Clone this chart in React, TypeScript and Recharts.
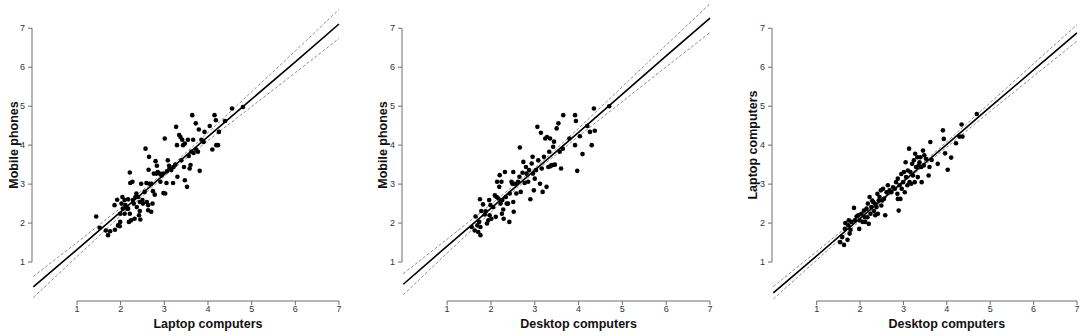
import React from "react";
import { ScatterChart, Scatter, XAxis, YAxis, ReferenceLine } from "recharts";

const bandX = [0, 1, 2, 3, 4, 5, 6, 7];
const axisTicks = [1, 2, 3, 4, 5, 6, 7];

// Panel 1: laptop computers (x) vs mobile phones (y)
const laptopMobile: [number, number][] = [
  [1.44, 2.17], [1.52, 1.88], [1.66, 1.81], [1.71, 1.69], [1.76, 1.79], [1.86, 2.46], [1.87, 1.83],
  [1.92, 2.6], [1.94, 1.94], [1.98, 1.92], [1.99, 2.03], [1.99, 2.24], [2.02, 2.5], [2.04, 2.67],
  [2.05, 2.37], [2.09, 2.59], [2.11, 2.46], [2.09, 2.24], [2.15, 2.37], [2.17, 2.61], [2.17, 2.37],
  [2.19, 2.03], [2.21, 2.24], [2.21, 3.3], [2.22, 3.03], [2.24, 2.07], [2.27, 3.06], [2.28, 2.59],
  [2.3, 2.5], [2.32, 2.11], [2.34, 2.67], [2.36, 2.76], [2.37, 2.41], [2.4, 2.67], [2.42, 2.2],
  [2.44, 2.54], [2.44, 2.31], [2.45, 2.09], [2.47, 3.01], [2.5, 2.59], [2.51, 2.5], [2.55, 2.8],
  [2.57, 3.91], [2.59, 3.03], [2.6, 2.54], [2.63, 2.46], [2.63, 2.33], [2.64, 3.37], [2.65, 3.7],
  [2.66, 3.01], [2.7, 3.01], [2.7, 2.29], [2.73, 2.5], [2.74, 2.82], [2.76, 3.27], [2.78, 2.73],
  [2.8, 3.59], [2.82, 3.27], [2.83, 3.47], [2.85, 3.31], [2.89, 3.27], [2.91, 3.06], [2.94, 3.23],
  [2.97, 3.27], [2.98, 2.77], [3.01, 4.17], [3.02, 2.76], [3.05, 3.03], [3.06, 3.33], [3.08, 3.61],
  [3.11, 3.47], [3.12, 3.4], [3.16, 3.36], [3.2, 3.03], [3.21, 3.44], [3.25, 3.5], [3.27, 4.47],
  [3.29, 4.0], [3.3, 3.19], [3.34, 4.26], [3.37, 4.21], [3.39, 3.61], [3.41, 4.14], [3.43, 4.0],
  [3.45, 3.44], [3.47, 3.1], [3.47, 4.04], [3.52, 2.93], [3.54, 4.14], [3.56, 3.72], [3.58, 3.4],
  [3.6, 3.49], [3.62, 3.83], [3.64, 4.77], [3.66, 4.14], [3.67, 3.8], [3.72, 4.56], [3.73, 3.89],
  [3.77, 3.83], [3.79, 4.4], [3.81, 3.34], [3.85, 4.14], [3.9, 4.08], [3.92, 4.34], [4.04, 4.49],
  [4.1, 3.89], [4.15, 4.77], [4.18, 4.64], [4.19, 4.0], [4.23, 4.0], [4.25, 4.34], [4.39, 4.62],
  [4.55, 4.94], [4.8, 4.98],
];
const laptopMobileFit = [0.36, 1.32, 2.29, 3.25, 4.22, 5.18, 6.14, 7.11];
const laptopMobileUpper = [0.63, 1.5, 2.39, 3.3, 4.32, 5.37, 6.42, 7.48];
const laptopMobileLower = [0.09, 1.14, 2.19, 3.2, 4.12, 4.99, 5.86, 6.74];

// Panel 2: desktop computers (x) vs mobile phones (y)
const desktopMobile: [number, number][] = [
  [1.56, 1.9], [1.63, 1.81], [1.65, 2.17], [1.69, 1.94], [1.71, 1.77], [1.73, 2.03], [1.75, 2.61],
  [1.76, 1.9], [1.76, 1.69], [1.78, 2.31], [1.82, 2.48], [1.86, 2.22], [1.88, 2.3], [1.91, 1.99],
  [1.94, 2.07], [1.96, 2.59], [1.97, 2.2], [1.99, 2.46], [2.01, 2.11], [2.05, 2.41], [2.09, 2.71],
  [2.11, 2.16], [2.13, 2.67], [2.14, 3.06], [2.17, 2.63], [2.19, 2.93], [2.2, 3.23], [2.22, 2.5],
  [2.24, 3.06], [2.25, 2.24], [2.26, 2.59], [2.28, 2.35], [2.29, 2.11], [2.32, 3.31], [2.34, 2.67],
  [2.36, 2.5], [2.39, 2.5], [2.42, 2.03], [2.43, 2.76], [2.47, 3.06], [2.49, 3.01], [2.51, 3.31],
  [2.51, 2.54], [2.52, 2.29], [2.55, 3.01], [2.58, 2.76], [2.62, 3.06], [2.65, 3.19], [2.66, 3.94],
  [2.68, 2.8], [2.72, 3.29], [2.74, 3.57], [2.77, 3.03], [2.8, 3.44], [2.81, 3.27], [2.85, 3.06],
  [2.87, 3.36], [2.9, 2.61], [2.93, 3.53], [2.95, 3.7], [2.96, 3.27], [2.98, 2.84], [3.0, 3.14],
  [3.03, 3.36], [3.06, 4.47], [3.08, 3.61], [3.12, 3.01], [3.14, 4.32], [3.16, 3.4], [3.18, 2.8],
  [3.21, 3.7], [3.24, 4.17], [3.27, 2.93], [3.28, 4.21], [3.31, 3.44], [3.33, 3.83], [3.35, 4.17],
  [3.36, 3.46], [3.38, 3.49], [3.41, 3.49], [3.42, 3.96], [3.44, 4.09], [3.46, 3.5], [3.5, 4.43],
  [3.54, 4.56], [3.57, 3.83], [3.6, 3.4], [3.64, 3.91], [3.65, 4.77], [3.79, 4.17], [3.92, 4.0],
  [3.92, 4.77], [3.94, 4.62], [3.97, 3.34], [4.03, 4.23], [4.09, 3.77], [4.2, 4.49], [4.26, 4.34],
  [4.3, 4.0], [4.35, 4.94], [4.37, 4.37], [4.7, 5.0],
];
const desktopMobileFit = [0.43, 1.41, 2.38, 3.36, 4.33, 5.31, 6.29, 7.26];
const desktopMobileUpper = [0.7, 1.59, 2.48, 3.41, 4.43, 5.5, 6.57, 7.63];
const desktopMobileLower = [0.16, 1.23, 2.28, 3.31, 4.23, 5.12, 6.01, 6.89];

// Panel 3: desktop computers (x) vs laptop computers (y)
const desktopLaptop: [number, number][] = [
  [1.54, 1.51], [1.59, 1.64], [1.63, 1.44], [1.65, 1.85], [1.66, 2.0], [1.71, 1.57], [1.73, 1.94],
  [1.74, 2.07], [1.76, 1.73], [1.78, 1.83], [1.8, 2.03], [1.86, 2.39], [1.88, 2.07], [1.92, 2.17],
  [1.96, 2.2], [1.98, 1.85], [1.99, 2.07], [2.03, 2.24], [2.06, 2.03], [2.09, 2.32], [2.11, 2.15],
  [2.12, 2.03], [2.15, 2.37], [2.17, 2.15], [2.18, 2.5], [2.2, 1.98], [2.22, 2.67], [2.24, 2.24],
  [2.26, 2.41], [2.28, 2.58], [2.3, 2.54], [2.32, 2.31], [2.34, 2.5], [2.35, 2.2], [2.38, 2.41],
  [2.4, 2.75], [2.41, 2.24], [2.43, 2.58], [2.45, 2.67], [2.48, 2.84], [2.49, 2.45], [2.51, 2.58],
  [2.53, 2.88], [2.55, 2.62], [2.58, 2.2], [2.61, 2.79], [2.64, 2.97], [2.68, 2.84], [2.72, 2.79],
  [2.76, 2.92], [2.8, 2.88], [2.83, 3.05], [2.86, 2.75], [2.87, 3.14], [2.87, 2.62], [2.89, 2.32],
  [2.91, 2.97], [2.93, 2.62], [2.95, 3.26], [2.96, 2.88], [2.99, 3.05], [3.01, 3.31], [3.03, 2.79],
  [3.05, 3.56], [3.06, 3.18], [3.09, 2.97], [3.1, 3.35], [3.13, 3.91], [3.14, 3.05], [3.16, 3.31],
  [3.18, 3.01], [3.2, 3.52], [3.22, 3.22], [3.24, 3.61], [3.26, 3.05], [3.27, 3.78], [3.29, 3.44],
  [3.32, 3.69], [3.33, 3.18], [3.35, 3.48], [3.37, 3.56], [3.39, 3.69], [3.41, 3.44], [3.42, 3.05],
  [3.45, 3.86], [3.47, 3.48], [3.48, 3.74], [3.52, 3.65], [3.58, 3.22], [3.6, 3.44], [3.62, 4.08],
  [3.65, 3.62], [3.79, 3.52], [3.91, 4.38], [3.93, 4.16], [3.96, 3.79], [4.02, 3.37], [4.1, 3.68],
  [4.21, 4.05], [4.29, 4.22], [4.34, 4.53], [4.36, 4.22], [4.69, 4.8],
];
const desktopLaptopFit = [0.21, 1.16, 2.12, 3.07, 4.02, 4.98, 5.93, 6.88];
const desktopLaptopUpper = [0.37, 1.27, 2.18, 3.1, 4.09, 5.09, 6.09, 7.09];
const desktopLaptopLower = [0.05, 1.05, 2.06, 3.04, 3.95, 4.87, 5.77, 6.67];

const X_MIN = -0.03;
const FONT = "'Liberation Sans', Arial, Helvetica, sans-serif";
const AXIS_GREY = "#6e6e6e";
const BAND_GREY = "#8c8c8c";

const toXY = (pairs: [number, number][]) => pairs.map(([x, y]) => ({ x, y }));
const curve = (ys: number[]) => bandX.map((x, i) => ({ x, y: ys[i] }));
// left spine only spans the tick range, like R's axis()
const ySpine = [
  { x: X_MIN, y: axisTicks[0] },
  { x: X_MIN, y: axisTicks[axisTicks.length - 1] },
];

const noDot = () => <g />;
const dot = (p: any) => <circle cx={p.cx} cy={p.cy} r={2.3} fill="#000" />;

type PanelProps = {
  left: number;
  width: number;
  points: [number, number][];
  fit: number[];
  upper: number[];
  lower: number[];
  xTitle: string;
  yTitle: string;
  yTitleX: number;
};

function Panel({ left, width, points, fit, upper, lower, xTitle, yTitle, yTitleX }: PanelProps) {
  const plotLeft = left + 32;
  const plotRight = left + width - 6;
  const x1 = plotLeft + ((plotRight - plotLeft) * (1 - X_MIN)) / (7 - X_MIN);
  return (
    <>
      <div style={{ position: "absolute", left, top: 0 }}>
        <ScatterChart width={width} height={336} margin={{ top: 1, right: 6, bottom: 0, left: 0 }}>
          <XAxis
            type="number"
            dataKey="x"
            domain={[X_MIN, 7]}
            ticks={axisTicks}
            axisLine={false}
            tickSize={4}
            tickMargin={1}
            height={35}
            stroke={AXIS_GREY}
            tick={{ fill: "#333", fontSize: 9, fontFamily: FONT }}
          />
          <YAxis
            type="number"
            dataKey="y"
            domain={[0, 7.7]}
            ticks={axisTicks}
            axisLine={false}
            tickSize={4}
            tickMargin={3}
            width={32}
            stroke={AXIS_GREY}
            tick={{ fill: "#333", fontSize: 9, fontFamily: FONT }}
          />
          <ReferenceLine
            segment={[{ x: 1, y: 0 }, { x: 7, y: 0 }]}
            stroke={AXIS_GREY}
            strokeWidth={1}
            ifOverflow="visible"
          />
          <Scatter
            data={ySpine}
            shape={noDot}
            line={{ stroke: AXIS_GREY, strokeWidth: 1 }}
            isAnimationActive={false}
          />
          <Scatter
            data={curve(upper)}
            shape={noDot}
            line={{ stroke: BAND_GREY, strokeWidth: 1, strokeDasharray: "3 2" }}
            isAnimationActive={false}
          />
          <Scatter
            data={curve(lower)}
            shape={noDot}
            line={{ stroke: BAND_GREY, strokeWidth: 1, strokeDasharray: "3 2" }}
            isAnimationActive={false}
          />
          <Scatter data={toXY(points)} shape={dot} isAnimationActive={false} />
          <Scatter
            data={curve(fit)}
            shape={noDot}
            line={{ stroke: "#000", strokeWidth: 1.6 }}
            isAnimationActive={false}
          />
        </ScatterChart>
      </div>
      <div
        style={{
          position: "absolute",
          left: (x1 + plotRight) / 2 - 100,
          width: 200,
          top: 317,
          textAlign: "center",
          fontFamily: FONT,
          fontWeight: "bold",
          fontSize: 12.5,
          color: "#111",
          whiteSpace: "nowrap",
        }}
      >
        {xTitle}
      </div>
      <div
        style={{
          position: "absolute",
          left: yTitleX - 100,
          top: 145 - 8,
          width: 200,
          textAlign: "center",
          transform: "rotate(-90deg)",
          fontFamily: FONT,
          fontWeight: "bold",
          fontSize: 12.5,
          lineHeight: "16px",
          color: "#111",
          whiteSpace: "nowrap",
        }}
      >
        {yTitle}
      </div>
    </>
  );
}

export default function App() {
  return (
    <div
      style={{
        position: "absolute",
        left: 0,
        top: 0,
        width: 1084,
        height: 336,
        background: "#fff",
        overflow: "hidden",
      }}
    >
      <Panel
        left={0}
        width={345}
        points={laptopMobile}
        fit={laptopMobileFit}
        upper={laptopMobileUpper}
        lower={laptopMobileLower}
        xTitle="Laptop computers"
        yTitle="Mobile phones"
        yTitleX={14}
      />
      <Panel
        left={370}
        width={346}
        points={desktopMobile}
        fit={desktopMobileFit}
        upper={desktopMobileUpper}
        lower={desktopMobileLower}
        xTitle="Desktop computers"
        yTitle="Mobile phones"
        yTitleX={383}
      />
      <Panel
        left={740}
        width={343}
        points={desktopLaptop}
        fit={desktopLaptopFit}
        upper={desktopLaptopUpper}
        lower={desktopLaptopLower}
        xTitle="Desktop computers"
        yTitle="Laptop computers"
        yTitleX={753}
      />
    </div>
  );
}
